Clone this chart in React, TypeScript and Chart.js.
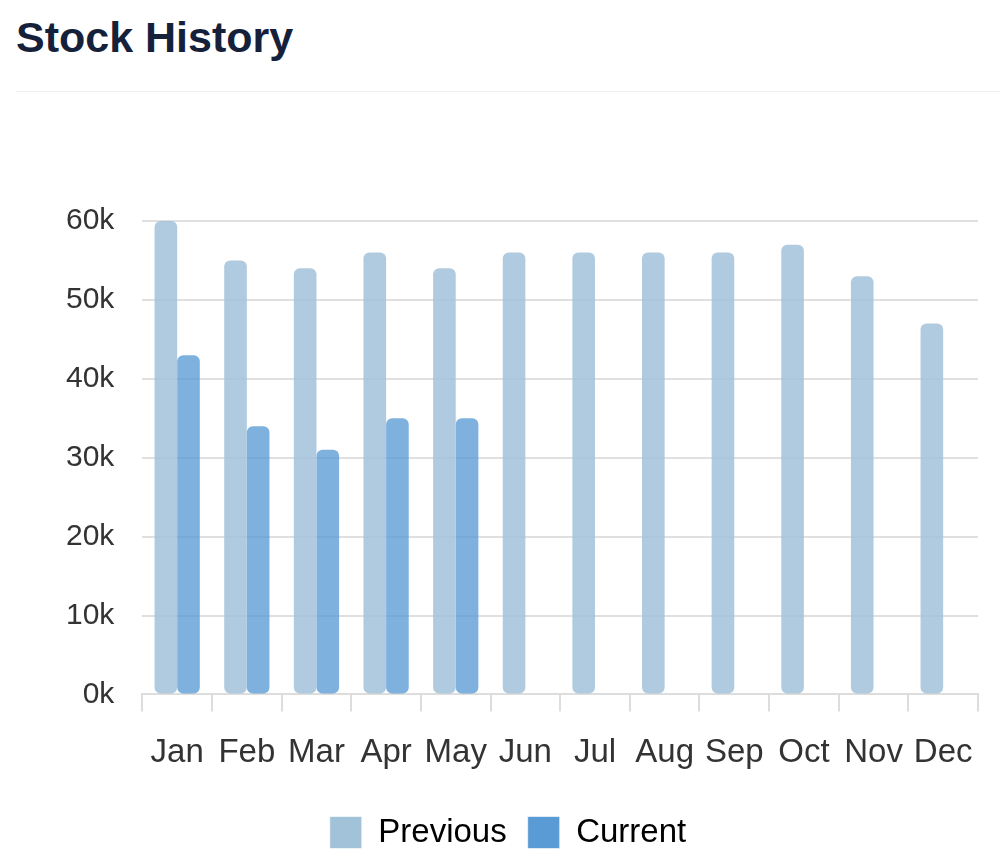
import { useEffect, useRef } from "react"
import { Chart, registerables } from "chart.js"

Chart.register(...registerables)

const months = ["Jan", "Feb", "Mar", "Apr", "May", "Jun", "Jul", "Aug", "Sep", "Oct", "Nov", "Dec"]
const previous = [60000, 55000, 54000, 56000, 54000, 56000, 56000, 56000, 56000, 57000, 53000, 47000]
const current = [43000, 34000, 31000, 35000, 35000, null, null, null, null, null, null, null]

const prevColor = "rgb(162, 194, 218)"
const currColor = "rgb(91, 155, 213)"
const font = "'Liberation Sans', Arial, sans-serif"

export default function App() {
  const canvasRef = useRef<HTMLCanvasElement>(null)
  const chartRef = useRef<Chart | null>(null)

  useEffect(() => {
    if (!canvasRef.current) return

    chartRef.current = new Chart(canvasRef.current, {
      type: "bar",
      data: {
        labels: months,
        datasets: [
          {
            label: "Previous",
            data: previous,
            backgroundColor: "rgba(162, 194, 218, 0.85)",
            borderRadius: 6,
            borderSkipped: false,
            categoryPercentage: 0.65,
            barPercentage: 1,
          },
          {
            label: "Current",
            data: current,
            backgroundColor: "rgba(91, 155, 213, 0.78)",
            borderRadius: 6,
            borderSkipped: false,
            categoryPercentage: 0.65,
            barPercentage: 1,
          },
        ],
      },
      options: {
        responsive: true,
        maintainAspectRatio: false,
        animation: false,
        layout: { padding: { top: 121, right: 22, left: 38, bottom: 6 } },
        scales: {
          x: {
            grid: {
              offset: true,
              drawOnChartArea: false,
              tickLength: 17,
              color: "#dddddd",
              lineWidth: 2,
            },
            border: { color: "#dddddd", width: 2 },
            ticks: { color: "#333333", font: { family: font, size: 33 }, padding: 22, maxRotation: 0, autoSkip: false },
          },
          y: {
            min: 0,
            max: 60000,
            grid: { color: "#e0e0e0", lineWidth: 2, drawTicks: false },
            border: { display: false },
            ticks: {
              stepSize: 10000,
              color: "#333333",
              font: { family: font, size: 30 },
              padding: 28,
              callback: (v) => `${Number(v) / 1000}k`,
            },
          },
        },
        plugins: {
          legend: {
            display: true,
            position: "bottom",
            labels: {
              color: "#333333",
              font: { family: font, size: 33 },
              boxWidth: 32,
              boxHeight: 32,
              padding: 21,
              generateLabels: (chart) =>
                chart.data.datasets.map((ds, i) => ({
                  text: ds.label as string,
                  fillStyle: i === 0 ? prevColor : currColor,
                  strokeStyle: "rgba(255, 255, 255, 0.6)",
                  lineWidth: 1,
                  hidden: !chart.isDatasetVisible(i),
                  datasetIndex: i,
                })),
            },
          },
          tooltip: { enabled: false },
        },
      },
    })

    return () => {
      chartRef.current?.destroy()
    }
  }, [])

  return (
    <div style={{ position: "absolute", left: 0, top: 0, width: 1000, height: 865, background: "#fff", fontFamily: font }}>
      <div
        style={{
          position: "absolute",
          left: 16,
          top: 16,
          fontSize: 43,
          lineHeight: "43px",
          fontWeight: 700,
          color: "#15213b",
        }}
      >
        Stock History
      </div>
      <div style={{ position: "absolute", left: 16, right: 0, top: 91, height: 1, background: "#eeeeee" }} />
      <div style={{ position: "absolute", left: 0, top: 100, width: 1000, height: 765 }}>
        <canvas ref={canvasRef} />
      </div>
    </div>
  )
}
